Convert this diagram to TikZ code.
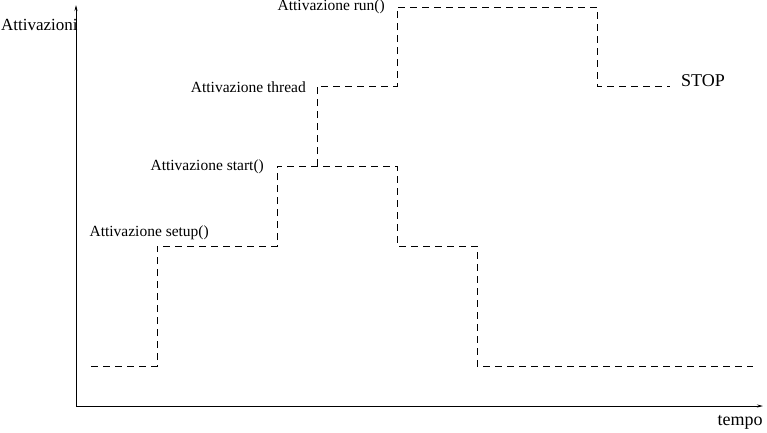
\documentclass[tikz,border=0pt]{standalone}
\usepackage{fontspec}
\setmainfont{Liberation Serif}
\usetikzlibrary{arrows.meta}
\begin{document}
\begin{tikzpicture}[x=1pt,y=-1pt,
  axis/.style={line width=0.8pt,-{Stealth[length=6pt,width=3pt]}},
  stepline/.style={line width=0.8pt,dash pattern=on 7pt off 5pt},
  lbl/.style={inner sep=0pt,font=\fontsize{15.5}{17}\selectfont},
  ylbl/.style={inner sep=0pt,font=\fontsize{17}{19}\selectfont},
  biglbl/.style={inner sep=0pt,font=\fontsize{18}{20}\selectfont}]
\useasboundingbox (0,0) rectangle (767,432);
% axes
\coordinate (O) at (76,406);
\coordinate (Ytop) at (76,5);
\coordinate (Xend) at (763,406);
\draw[axis] (O) -- (Ytop);
\draw[axis] (O) -- (Xend);
% step coordinates
\coordinate (a0) at (91,366);
\coordinate (a1) at (157,366);
\coordinate (a2) at (157,246);
\coordinate (a3) at (277,246);
\coordinate (a4) at (277,166);
\coordinate (a5) at (397,166);
\coordinate (a6) at (397,246);
\coordinate (a7) at (477,246);
\coordinate (a8) at (477,366);
\coordinate (a9) at (753,366);
\coordinate (b0) at (317,166);
\coordinate (b1) at (317,86);
\coordinate (b2) at (397,86);
\coordinate (b3) at (397,7);
\coordinate (b4) at (597,7);
\coordinate (b5) at (597,86);
\coordinate (b6) at (670,86);
\draw[stepline] (a0) -- (a1) -- (a2) -- (a3) -- (a4) -- (a5) -- (a6) -- (a7) -- (a8) -- (a9);
\draw[stepline] (b0) -- (b1) -- (b2) -- (b3) -- (b4) -- (b5) -- (b6);
% labels
\node[lbl,anchor=east] (ls) at (209,233) {Attivazione setup()};
\node[lbl,anchor=east] (lst) at (264,167) {Attivazione start()};
\node[lbl,anchor=east] (lth) at (306,87) {Attivazione thread};
\node[lbl,anchor=east] (lrun) at (385,7) {Attivazione run()};
\node[ylbl,anchor=west] (ly) at (1,25) {Attivazioni};
\node[biglbl,anchor=west] (stop) at (681,81) {STOP};
\node[biglbl] (lx) at (740,422) {tempo};
\end{tikzpicture}
\end{document}
